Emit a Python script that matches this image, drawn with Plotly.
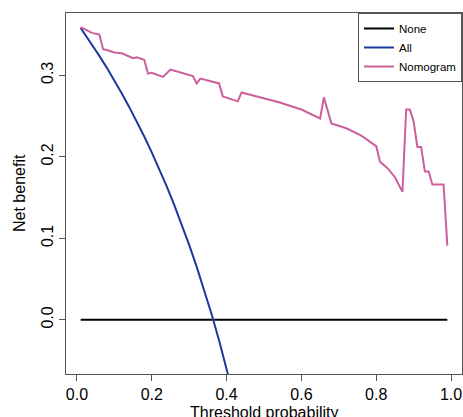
import plotly.graph_objects as go

# Threshold probabilities and net benefit values
none_x = [0.01, 0.99]
none_y = [0.0, 0.0]

all_x = [0.01, 0.02, 0.04, 0.06, 0.08, 0.10, 0.12, 0.14, 0.16, 0.18, 0.20, 0.22,
         0.24, 0.26, 0.28, 0.30, 0.32, 0.34, 0.36, 0.38, 0.40, 0.42]
all_y = [0.358, 0.3514, 0.3379, 0.3238, 0.3091, 0.2938, 0.2777, 0.2609, 0.2433,
         0.2249, 0.2055, 0.1851, 0.1637, 0.1411, 0.1172, 0.0920, 0.0653, 0.0370,
         0.0069, -0.0252, -0.0593, -0.0959]

nomo_x = [0.01, 0.04, 0.06, 0.07, 0.08, 0.10, 0.12, 0.15, 0.16, 0.18, 0.19, 0.20,
          0.23, 0.25, 0.31, 0.32, 0.33, 0.38, 0.39, 0.43, 0.44, 0.50, 0.54, 0.60,
          0.65, 0.66, 0.68, 0.72, 0.76, 0.80, 0.81, 0.83, 0.85, 0.87, 0.88, 0.89,
          0.90, 0.91, 0.92, 0.93, 0.94, 0.95, 0.98, 0.99]
nomo_y = [0.359, 0.352, 0.350, 0.332, 0.331, 0.328, 0.327, 0.321, 0.322, 0.319,
          0.302, 0.303, 0.298, 0.307, 0.299, 0.290, 0.296, 0.290, 0.274, 0.268,
          0.279, 0.272, 0.267, 0.258, 0.247, 0.273, 0.241, 0.235, 0.226, 0.213,
          0.194, 0.186, 0.175, 0.157, 0.258, 0.258, 0.243, 0.212, 0.212, 0.182,
          0.182, 0.166, 0.166, 0.091]

x_ticks = [0.0, 0.2, 0.4, 0.6, 0.8, 1.0]
x_labels = ["0.0", "0.2", "0.4", "0.6", "0.8", "1.0"]
y_ticks = [0.0, 0.1, 0.2, 0.3]
y_labels = ["0.0", "0.1", "0.2", "0.3"]
x_title = "Threshold probability"
y_title = "Net benefit"

FONT = "Liberation Sans, Arial, sans-serif"

fig = go.Figure()
fig.add_trace(go.Scatter(x=none_x, y=none_y, mode="lines", name="None",
                         line=dict(color="#000000", width=2)))
fig.add_trace(go.Scatter(x=all_x, y=all_y, mode="lines", name="All",
                         line=dict(color="#1a3a9e", width=2)))
fig.add_trace(go.Scatter(x=nomo_x, y=nomo_y, mode="lines", name="Nomogram",
                         line=dict(color="#cc5e9c", width=2)))

fig.update_layout(
    width=463, height=417,
    margin=dict(l=66, r=1, t=13, b=43, autoexpand=False),
    paper_bgcolor="white", plot_bgcolor="white",
    font=dict(family=FONT, size=16, color="#000000"),
    showlegend=True,
    legend=dict(x=1, y=1, xanchor="right", yanchor="top",
                bordercolor="#555555", borderwidth=1, bgcolor="white",
                font=dict(size=11.5), itemwidth=30, tracegroupgap=0),
    xaxis=dict(range=[-0.0292, 1.0292], tickvals=x_ticks, ticktext=x_labels,
               showgrid=False, zeroline=False, showline=True, mirror=True,
               linecolor="#555555", linewidth=1, ticks="outside", ticklen=6,
               tickcolor="#555555", tickfont=dict(size=16), automargin=False),
    yaxis=dict(range=[-0.0664, 0.3764], tickvals=y_ticks, ticktext=y_labels,
               showgrid=False, zeroline=False, showline=True, mirror=True,
               linecolor="#555555", linewidth=1, ticks="outside", ticklen=6,
               tickcolor="#555555", tickfont=dict(size=16), tickangle=-90,
               automargin=False),
    annotations=[
        dict(text=x_title, xref="paper", yref="paper", x=0.5, y=0,
             xanchor="center", yanchor="top", yshift=-28, showarrow=False,
             font=dict(size=16, family=FONT, color="#000000")),
        dict(text=y_title, xref="paper", yref="paper", x=0, y=0.5,
             xanchor="center", yanchor="middle", xshift=-46.5, textangle=-90,
             showarrow=False, font=dict(size=16, family=FONT, color="#000000")),
    ],
)

fig.write_html("out.html")
